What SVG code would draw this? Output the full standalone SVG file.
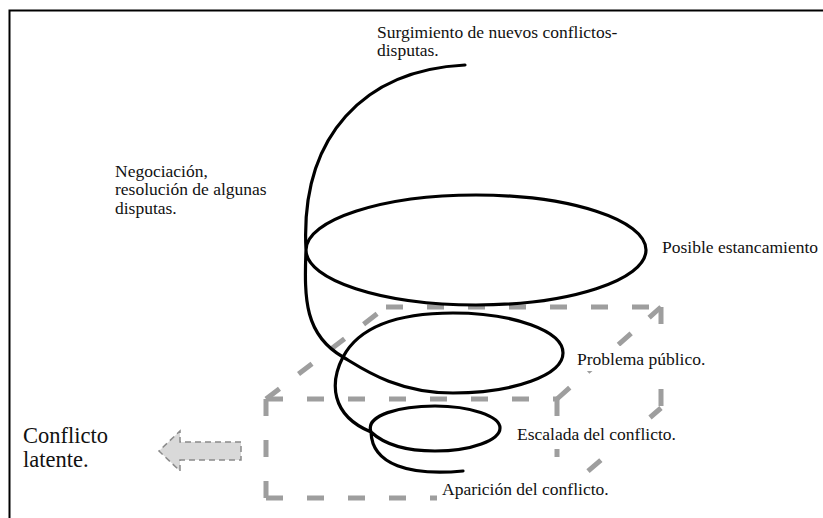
<svg xmlns="http://www.w3.org/2000/svg" width="823" height="518" viewBox="0 0 823 518">
<style>
.t{font-family:"Liberation Serif","Times New Roman","DejaVu Serif","Noto Serif",serif;font-size:17.5px;fill:#111}
.big{font-size:22.5px}
.cube line{stroke:#9e9e9e;stroke-width:5;stroke-dasharray:17 24;fill:none}
.mask{fill:#fff}
.spiral{fill:none;stroke:#000;stroke-width:3.2;stroke-linecap:round;stroke-linejoin:round}
</style>
<rect width="823" height="518" fill="#fff"/>
<path id="frame" d="M9.5,530 V10.5 H830" fill="none" stroke="#000" stroke-width="2"/>
<g id="cube" class="cube">
<line x1="266" y1="399" x2="557" y2="399"/>
<line x1="266" y1="399" x2="266" y2="498"/>
<line x1="266" y1="498" x2="557" y2="498"/>
<line x1="557" y1="399" x2="557" y2="498"/>
<line x1="386" y1="307" x2="661" y2="307"/>
<line x1="661" y1="307" x2="661" y2="408"/>
<line x1="266" y1="399" x2="386" y2="307"/>
<line x1="557" y1="399" x2="661" y2="307"/>
<line x1="557" y1="498" x2="661" y2="408"/>
</g>
<g id="arrow">
<polygon points="241,442 180,442 180,431 159,451 180,471 180,460 241,460" fill="#d9d9d9" stroke="#8a8a8a" stroke-width="1.5" stroke-dasharray="6 4"/>
</g>
<g id="connectors">
<path class="spiral" d="M465,65 C365,70 300,135 306,250 C306,280 382,305 476,305 C570,305 646,280 646,250 C646,220 570,195 476,195 C382,195 306,220 306,250 C304,300 305,335 343,357 C360,367 395,393 453,393 C514,393 563,375 563,353 C563,331 514,313 453,313 C400,313 360,325 343,357 C330,382 330,415 371,432 C385,445 405,451 435,451 C472,451 500,440 500,428 C500,416 470,406 435,406 C400,406 365,415 371,432 C372,465 410,476 463,471"/>
</g>
<g id="label-surgimiento" font-family="Liberation Serif, serif">
<text class="t" x="377" y="37.5">Surgimiento de nuevos conflictos-</text>
<text class="t" x="377" y="56">disputas.</text>
</g>
<g id="label-negociacion" font-family="Liberation Serif, serif">
<text class="t" x="115" y="176.5" font-size="17">Negociación,</text>
<text class="t" x="115" y="195" font-size="17">resolución de algunas</text>
<text class="t" x="115" y="213.5" font-size="17">disputas.</text>
</g>
<g id="label-estancamiento" font-family="Liberation Serif, serif">
<text class="t" x="662" y="253">Posible estancamiento</text>
</g>
<g id="label-problema" font-family="Liberation Serif, serif">
<rect class="mask" x="574" y="346" width="136" height="25"/>
<text class="t" x="577" y="365">Problema público.</text>
</g>
<g id="label-escalada" font-family="Liberation Serif, serif">
<rect class="mask" x="513" y="427" width="203" height="22"/>
<text class="t" x="517" y="440">Escalada del conflicto.</text>
</g>
<g id="label-aparicion" font-family="Liberation Serif, serif">
<rect class="mask" x="437" y="476" width="178" height="26"/>
<text class="t" x="442" y="495">Aparición del conflicto.</text>
</g>
<g id="label-latente" font-family="Liberation Serif, serif">
<text class="t big" x="23" y="443">Conflicto</text>
<text class="t big" x="23" y="467">latente.</text>
</g>
</svg>
